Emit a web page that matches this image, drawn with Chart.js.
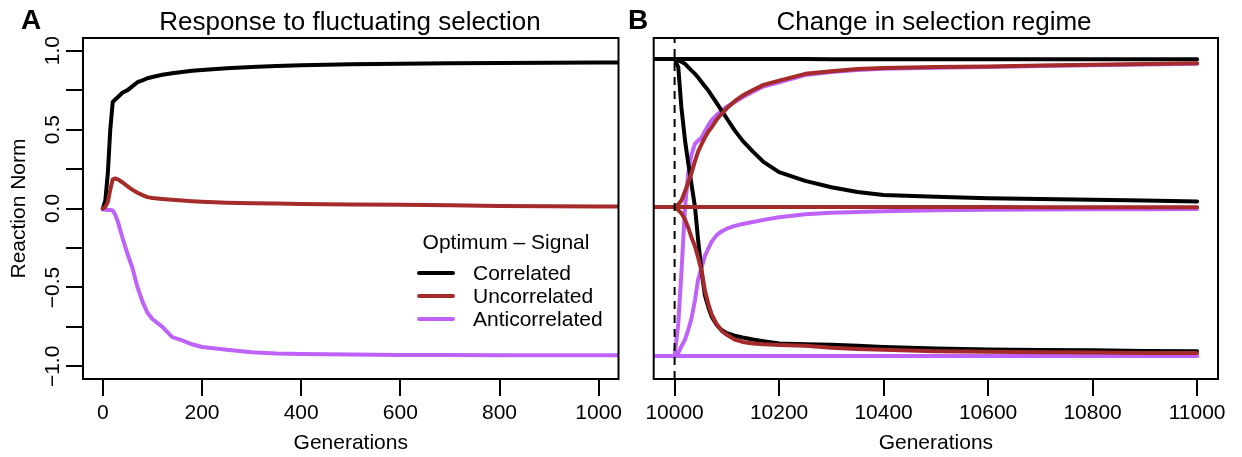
<!DOCTYPE html>
<html>
<head>
<meta charset="utf-8">
<script src="https://cdn.jsdelivr.net/npm/chart.js@4"></script>
<style>
  body { margin: 0; background: #fff; font-family: "Liberation Sans", Arial, sans-serif; }
  #wrap { position: relative; width: 1242px; height: 457px; overflow: hidden; }
  canvas { position: absolute; top: 0; }
  .txt { position: absolute; white-space: nowrap; color: #000; line-height: 1; }
  .key { position: absolute; height: 4px; width: 38px; left: 417px; border-radius: 2px; }
</style>
</head>
<body>
<div id="wrap">
  <canvas id="chartA" width="640" height="457" style="left:0"></canvas>
  <canvas id="chartB" width="602" height="457" style="left:640px"></canvas>

  <div class="txt" style="left:21px;top:6px;font-size:28px;font-weight:bold">A</div>
  <div class="txt" style="left:628px;top:6px;font-size:28px;font-weight:bold">B</div>
  <div class="txt" style="left:350px;top:8px;font-size:26px;transform:translateX(-50%)">Response to fluctuating selection</div>
  <div class="txt" style="left:934px;top:8px;font-size:26px;transform:translateX(-50%)">Change in selection regime</div>

  <div class="txt" style="left:506px;top:231px;font-size:21px;transform:translateX(-50%)">Optimum – Signal</div>
  <div class="key" style="top:271px;background:#000"></div>
  <div class="key" style="top:294px;background:#A52A2A"></div>
  <div class="key" style="top:317px;background:#BF62F8"></div>
  <div class="txt" style="left:473px;top:262px;font-size:21px">Correlated</div>
  <div class="txt" style="left:473px;top:285px;font-size:21px">Uncorrelated</div>
  <div class="txt" style="left:473px;top:308px;font-size:21px">Anticorrelated</div>
</div>
<script>
// panel A: response to fluctuating selection
const genA = [0, 5, 10, 15, 20, 25, 30, 40, 50, 60, 70, 80, 90, 100, 120, 140, 160, 180, 200,
  250, 300, 350, 400, 500, 600, 700, 800, 900, 1000, 1040];
const corrA = [0, 0.05, 0.22, 0.5, 0.675, 0.69, 0.705, 0.735, 0.75, 0.775, 0.8, 0.812, 0.825, 0.833,
  0.847, 0.857, 0.865, 0.872, 0.878, 0.888, 0.896, 0.902, 0.908, 0.913, 0.917, 0.92, 0.922, 0.924, 0.925, 0.925];
const uncorrA = [0, 0.01, 0.04, 0.12, 0.185, 0.19, 0.185, 0.165, 0.14, 0.118, 0.1, 0.085, 0.072, 0.066,
  0.06, 0.055, 0.05, 0.046, 0.043, 0.037, 0.033, 0.031, 0.029, 0.026, 0.023, 0.02, 0.016, 0.014, 0.012, 0.012];
const antiA = [-0.005, -0.008, -0.01, -0.01, -0.012, -0.04, -0.08, -0.19, -0.29, -0.38, -0.5, -0.59, -0.66, -0.7,
  -0.75, -0.815, -0.835, -0.86, -0.877, -0.895, -0.91, -0.918, -0.922, -0.925, -0.928, -0.928, -0.93, -0.93, -0.93, -0.93];

// panel B: change in selection regime at generation 10000
const genB = [9960, 10000, 10007, 10013, 10020, 10026, 10032, 10039, 10045, 10052, 10058, 10065, 10071, 10080,
  10090, 10100, 10115, 10130, 10150, 10170, 10200, 10250, 10300, 10350, 10400, 10500, 10600, 10700, 10800, 10900, 11000];
const corrStayB = [0.947, 0.947, 0.947, 0.947, 0.947, 0.947, 0.947, 0.947, 0.947, 0.947, 0.947, 0.947, 0.947, 0.947,
  0.947, 0.947, 0.947, 0.947, 0.947, 0.947, 0.947, 0.947, 0.946, 0.946, 0.946, 0.946, 0.946, 0.945, 0.945, 0.945, 0.945];
const corrFastB = [null, 0.947, 0.895, 0.64, 0.43, 0.29, 0.16, 0.01, -0.2, -0.41, -0.55, -0.63, -0.685, -0.735,
  -0.77, -0.79, -0.805, -0.817, -0.83, -0.84, -0.855, -0.86, -0.863, -0.87, -0.878, -0.887, -0.893, -0.897, -0.898, -0.902, -0.905];
const corrSlowB = [null, 0.947, 0.94, 0.93, 0.916, 0.895, 0.875, 0.853, 0.83, 0.8, 0.775, 0.745, 0.715, 0.67,
  0.62, 0.57, 0.495, 0.43, 0.36, 0.295, 0.23, 0.175, 0.135, 0.105, 0.085, 0.075, 0.065, 0.06, 0.055, 0.05, 0.045];
const uncStayB = [0.01, 0.01, 0.01, 0.01, 0.01, 0.01, 0.01, 0.01, 0.01, 0.01, 0.01, 0.01, 0.01, 0.01,
  0.01, 0.01, 0.01, 0.01, 0.01, 0.01, 0.01, 0.01, 0.01, 0.01, 0.009, 0.009, 0.009, 0.008, 0.008, 0.008, 0.008];
const uncUpB = [null, 0.01, 0.025, 0.05, 0.11, 0.165, 0.22, 0.3, 0.36, 0.41, 0.45, 0.49, 0.515, 0.56,
  0.6, 0.635, 0.68, 0.715, 0.75, 0.783, 0.81, 0.853, 0.87, 0.884, 0.89, 0.896, 0.9, 0.906, 0.91, 0.915, 0.92];
const uncDownB = [null, 0.01, -0.01, -0.03, -0.07, -0.12, -0.18, -0.24, -0.31, -0.4, -0.52, -0.61, -0.67, -0.73,
  -0.775, -0.8, -0.83, -0.845, -0.855, -0.86, -0.865, -0.87, -0.882, -0.89, -0.895, -0.905, -0.908, -0.91, -0.912, -0.915, -0.916];
const antiStayB = [-0.935, -0.935, -0.935, -0.935, -0.935, -0.935, -0.935, -0.935, -0.935, -0.935, -0.935, -0.935, -0.935, -0.935,
  -0.935, -0.935, -0.935, -0.935, -0.935, -0.935, -0.935, -0.935, -0.935, -0.935, -0.935, -0.935, -0.935, -0.935, -0.935, -0.935, -0.935];
const antiFastB = [null, -0.935, -0.73, -0.41, 0.01, 0.22, 0.34, 0.41, 0.43, 0.45, 0.49, 0.53, 0.56, 0.59,
  0.62, 0.645, 0.675, 0.705, 0.74, 0.773, 0.8, 0.845, 0.865, 0.878, 0.885, 0.892, 0.897, 0.903, 0.908, 0.912, 0.917];
const antiSlowB = [null, -0.935, -0.915, -0.874, -0.83, -0.77, -0.7, -0.58, -0.45, -0.37, -0.3, -0.25, -0.21, -0.17,
  -0.145, -0.128, -0.11, -0.098, -0.085, -0.072, -0.055, -0.036, -0.027, -0.022, -0.017, -0.011, -0.008, -0.006, -0.005, -0.004, -0.003];

const switchGen = 10000;
const yTicks = [-1, -0.75, -0.5, -0.25, 0, 0.25, 0.5, 0.75, 1];
const xTicksA = [0, 200, 400, 600, 800, 1000];
const xTicksB = [10000, 10200, 10400, 10600, 10800, 11000];

const colCorr = "#000000";
const colUnc = "#A52A2A";
const colAnti = "#BF62F8";

Chart.defaults.font.family = '"Liberation Sans", Arial, sans-serif';
Chart.defaults.color = "#000";

function pts(xs, ys) {
  return xs.map((x, i) => ({ x: x, y: ys[i] }));
}

function line(xs, ys, color, order) {
  return {
    data: pts(xs, ys),
    borderColor: color,
    borderWidth: 4,
    pointRadius: 0,
    tension: 0,
    order: order,
    borderCapStyle: "round",
    borderJoinStyle: "round",
  };
}

// box around the plot region, like R's box()
const boxPlugin = {
  id: "box",
  afterDraw(chart) {
    const { ctx, chartArea: a } = chart;
    ctx.save();
    ctx.strokeStyle = "#000";
    ctx.lineWidth = 2;
    ctx.strokeRect(a.left, a.top, a.right - a.left, a.bottom - a.top);
    ctx.restore();
  },
};

function xScale(min, max, ticks) {
  return {
    type: "linear",
    min: min,
    max: max,
    afterBuildTicks: (s) => { s.ticks = ticks.map((v) => ({ value: v })); },
    afterFit: (s) => { s.height = 78; },
    grid: { drawOnChartArea: false, drawTicks: true, tickLength: 17, color: "#000", lineWidth: 2 },
    border: { display: false },
    ticks: { autoSkip: false, maxRotation: 0, padding: 5, font: { size: 21 }, callback: (v) => String(v) },
    title: { display: true, text: "Generations", font: { size: 21 }, padding: { top: 0, bottom: 1 } },
  };
}

new Chart(document.getElementById("chartA"), {
  type: "line",
  data: {
    datasets: [
      line(genA, corrA, colCorr, 2),
      line(genA, uncorrA, colUnc, 1),
      line(genA, antiA, colAnti, 3),
    ],
  },
  options: {
    responsive: false,
    animation: false,
    layout: { padding: { top: 38, right: 21.5, left: 0, bottom: 0 } },
    plugins: { legend: { display: false }, tooltip: { enabled: false } },
    scales: {
      x: xScale(-40, 1040, xTicksA),
      y: {
        min: -1.08,
        max: 1.08,
        afterBuildTicks: (s) => { s.ticks = yTicks.map((v) => ({ value: v })); },
        afterFit: (s) => { s.width = 83; },
        grid: { drawOnChartArea: false, drawTicks: true, tickLength: 17, color: "#000", lineWidth: 2 },
        border: { display: false },
        ticks: {
          autoSkip: false,
          minRotation: 90,
          maxRotation: 90,
          crossAlign: "center",
          padding: -8,
          font: { size: 21 },
          callback: (v) => (v % 0.5 === 0 ? v.toFixed(1).replace("-", "\u2212") : ""),
        },
        title: { display: true, text: "Reaction Norm", font: { size: 21 }, padding: { top: 7, bottom: 0 } },
      },
    },
  },
  plugins: [boxPlugin],
});

new Chart(document.getElementById("chartB"), {
  type: "line",
  data: {
    datasets: [
      line(genB, corrStayB, colCorr, 2),
      line(genB, corrFastB, colCorr, 2),
      line(genB, corrSlowB, colCorr, 2),
      line(genB, uncStayB, colUnc, 1),
      line(genB, uncUpB, colUnc, 1),
      line(genB, uncDownB, colUnc, 1),
      line(genB, antiStayB, colAnti, 3),
      line(genB, antiFastB, colAnti, 3),
      line(genB, antiSlowB, colAnti, 3),
      {
        data: [{ x: switchGen, y: -1.08 }, { x: switchGen, y: 1.08 }],
        borderColor: "#000",
        borderWidth: 2,
        borderDash: [8, 6],
        pointRadius: 0,
        order: 0,
      },
    ],
  },
  options: {
    responsive: false,
    animation: false,
    layout: { padding: { top: 38, right: 24, left: 11, bottom: 0 } },
    plugins: { legend: { display: false }, tooltip: { enabled: false } },
    scales: {
      x: xScale(9960, 11040, xTicksB),
      y: { display: false, min: -1.08, max: 1.08 },
    },
  },
  plugins: [boxPlugin],
});
</script>
</body>
</html>
